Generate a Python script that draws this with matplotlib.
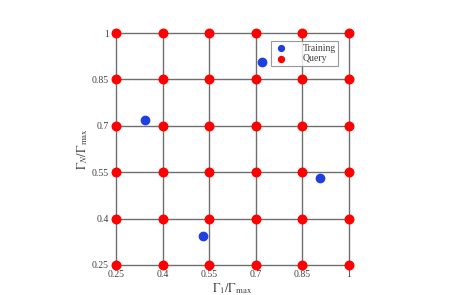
import numpy as np
import matplotlib
matplotlib.use('Agg')
import matplotlib.pyplot as plt

plt.rcParams['font.family'] = ['Liberation Serif', 'DejaVu Serif']
plt.rcParams['mathtext.fontset'] = 'stix'

# grid of query points and training points
grid_vals = [0.25, 0.4, 0.55, 0.7, 0.85, 1.0]
tick_labels = ['0.25', '0.4', '0.55', '0.7', '0.85', '1']
train_x = [0.343, 0.72, 0.53, 0.905]
train_y = [0.72, 0.905, 0.343, 0.53]

qx, qy = np.meshgrid(grid_vals, grid_vals)

fig = plt.figure(figsize=(4.51, 2.95), dpi=100)
ax = fig.add_axes([0.257, 0.102, 0.517, 0.786])

for v in grid_vals:
    ax.axvline(v, color='#6e6e6e', lw=1.0, zorder=1, clip_on=False)
    ax.axhline(v, color='#6e6e6e', lw=1.0, zorder=1, clip_on=False)

ax.scatter(train_x, train_y, s=36, color='#1f3fe0', label='Training', zorder=3, clip_on=False)
ax.scatter(qx.ravel(), qy.ravel(), s=38, color='#ff0000', label='Query', zorder=3, clip_on=False)

ax.set_xlim(0.25, 1)
ax.set_ylim(0.25, 1)
ax.set_xticks(grid_vals)
ax.set_xticklabels(tick_labels)
ax.set_yticks(grid_vals)
ax.set_yticklabels(tick_labels)
ax.tick_params(axis='x', length=0, labelsize=7, colors='#404040', pad=4)
ax.tick_params(axis='y', length=0, labelsize=7, colors='#404040', pad=5)
for s in ax.spines.values():
    s.set_visible(False)

ax.set_xlabel(r'$\Gamma_1/\Gamma_{\max}$', fontsize=9, color='#404040', labelpad=1)
ax.set_ylabel(r'$\Gamma_N/\Gamma_{\max}$', fontsize=9, color='#404040', labelpad=1)

leg = ax.legend(loc='upper right', bbox_to_anchor=(0.975, 0.985), fontsize=7,
                frameon=True, fancybox=False, edgecolor='#808080',
                handletextpad=1.4, borderpad=0.25, labelspacing=0.15,
                handlelength=1.6, markerscale=0.7)
leg.get_frame().set_linewidth(0.8)
for t in leg.get_texts():
    t.set_color('#404040')

fig.savefig('out.png', dpi=100)
